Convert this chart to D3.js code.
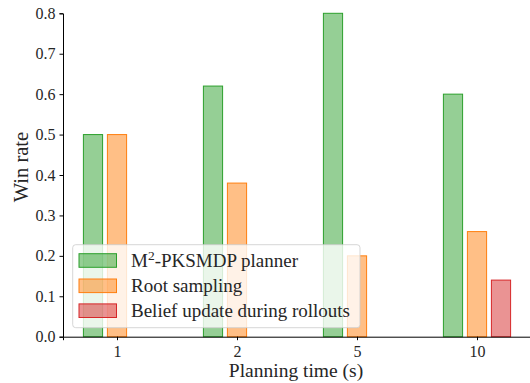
<!DOCTYPE html>
<html><head><meta charset="utf-8">
<script src="https://cdn.jsdelivr.net/npm/d3@7"></script>
</head><body style="margin:0;background:#fff">
<svg id="c" width="530" height="383" style="display:block"></svg>
<script>
const categories = ["1","2","5","10"];
const seriesNames = ["M²-PKSMDP planner","Root sampling","Belief update during rollouts"];
const planner = [0.5, 0.62, 0.8, 0.6];
const rootSampling = [0.5, 0.38, 0.2, 0.26];
const beliefUpdate = [0.0, 0.0, 0.0, 0.14];
const yTicks = [0.0,0.1,0.2,0.3,0.4,0.5,0.6,0.7,0.8];
const colors = ["#2ca02c","#ff7f0e","#d62728"];
const series = [planner, rootSampling, beliefUpdate];
const FONT = "Liberation Serif, serif";

const svg = d3.select("#c");
const left=63, right=530, bottom=336.7;
const x = d3.scaleLinear().domain([-0.45, -0.45 + (right-left)/120]).range([left,right]);
const y = d3.scaleLinear().domain([0,0.8]).range([bottom,13.3]);
const offs=[-0.2,0,0.2], bw=0.16;

series.forEach((vals,si)=>{
  svg.append("g").selectAll("rect").data(vals).join("rect")
    .attr("x",(d,i)=>x(i+offs[si]-bw/2))
    .attr("width",x(bw)-x(0))
    .attr("y",d=>y(d))
    .attr("height",d=>bottom-y(d))
    .attr("fill",colors[si]).attr("fill-opacity",0.5)
    .attr("stroke",colors[si]).attr("stroke-width",1);
});

const ya = svg.append("g").attr("transform",`translate(${left},0)`)
  .call(d3.axisLeft(y).tickValues(yTicks).tickFormat(d3.format(".1f")).tickSizeOuter(0).tickSize(3.5).tickPadding(4));
ya.select(".domain").attr("stroke","#000").attr("stroke-width",1);
ya.selectAll("text").style("font-size","16px").style("font-family",FONT).style("fill","#262626");

const xa = svg.append("g").attr("transform",`translate(0,${bottom})`)
  .call(d3.axisBottom(x).tickValues(categories.map((c,i)=>i)).tickFormat(i=>categories[i]).tickSizeOuter(0).tickSize(3.5).tickPadding(5));
xa.select(".domain").attr("stroke","#000").attr("stroke-width",1);
xa.selectAll("text").style("font-size","16px").style("font-family",FONT).style("fill","#262626");

svg.append("text").attr("transform","translate(28,167) rotate(-90)").attr("text-anchor","middle")
  .style("font-family",FONT).style("font-size","20.5px").style("fill","#262626").text("Win rate");
svg.append("text").attr("x",296).attr("y",377).attr("text-anchor","middle")
  .style("font-family",FONT).style("font-size","19.5px").style("fill","#262626").text("Planning time (s)");

// legend
const lg = svg.append("g");
lg.append("rect").attr("x",72.7).attr("y",244.7).attr("width",287.3).attr("height",83)
  .attr("rx",3).attr("fill","#fff").attr("fill-opacity",0.8).attr("stroke","#ccc").attr("stroke-opacity",0.8);
const rows=[260.5,285.8,310.7];
seriesNames.forEach((n,i)=>{
  lg.append("rect").attr("x",79).attr("y",rows[i]-6.8).attr("width",37.5).attr("height",13.6)
    .attr("fill",colors[i]).attr("fill-opacity",0.5).attr("stroke",colors[i]).attr("stroke-width",1);
  const t = lg.append("text").attr("x",131).attr("y",rows[i]+6)
    .style("font-family",FONT).style("font-size","19px").style("fill","#262626");
  if(i===0){
    t.append("tspan").text("M");
    t.append("tspan").style("font-size","13.5px").attr("dy",-7).text("2");
    t.append("tspan").attr("dy",7).text("-PKSMDP planner");
  } else t.text(n);
});
</script>
</body></html>
